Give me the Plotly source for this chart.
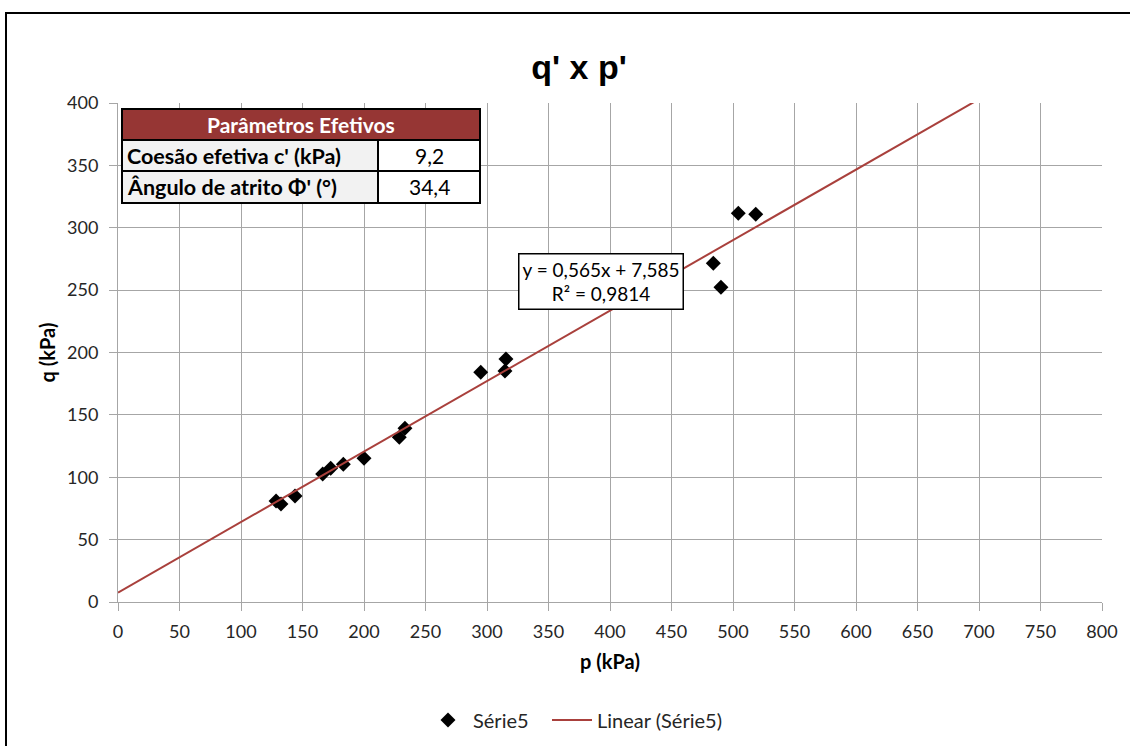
import plotly.graph_objects as go

# ---- data ----
p_values = [128.5, 132.5, 143.9, 166.4, 172.9, 183.2, 200.0, 228.7, 233.3,
            294.9, 315.4, 314.6, 484.0, 490.2, 504.3, 518.5]
q_values = [81.0, 78.6, 85.0, 102.6, 107.2, 110.4, 115.2, 132.0, 139.2,
            184.1, 194.8, 185.2, 271.5, 252.3, 311.6, 310.8]
trend_slope = 0.565
trend_intercept = 7.585
trend_r2 = "0,9814"
trend_x = [0, 800]
table_header = "Parâmetros Efetivos"
table_labels = ["Coesão efetiva c' (kPa)", "Ângulo de atrito Φ' (°)"]
table_values = ["9,2", "34,4"]

# ---- layout geometry (pixels) ----
W, H = 1130, 746
L, R, T, B = 118, 1102, 103, 602

def px(x):
    return (x - L) / (R - L)

def py(y):
    return (B - y) / (B - T)

FONT = "Lato, Carlito, Open Sans, sans-serif"

fig = go.Figure()
fig.add_trace(go.Scatter(
    x=p_values, y=q_values, mode="markers", name="Série5",
    marker=dict(symbol="diamond", size=11.5, color="black"), legend="legend",
))
trend_y = [trend_slope * x + trend_intercept for x in trend_x]
fig.add_trace(go.Scatter(
    x=trend_x, y=trend_y, mode="lines", name="Linear (Série5)",
    line=dict(color="#a9403c", width=2), legend="legend2",
))

grid = "#a6a6a6"
leg_common = dict(orientation="h", yanchor="middle", xanchor="left",
                  font=dict(size=20, color="#262626"), itemwidth=40,
                  bgcolor="rgba(0,0,0,0)")
fig.update_layout(
    width=W, height=H,
    margin=dict(l=L, r=W - R, t=T, b=H - B, autoexpand=False),
    paper_bgcolor="white", plot_bgcolor="white",
    font=dict(family=FONT, size=18, color="#262626"),
    showlegend=True,
    legend=dict(x=px(423), y=py(720), **leg_common),
    legend2=dict(x=px(547), y=py(720), **leg_common),
    title=dict(text="<b>q' x p'</b>", x=(579) / W, xanchor="center",
               y=1 - 67 / H, yanchor="middle",
               font=dict(family="Liberation Sans Narrow, Arial Narrow, Liberation Sans, Arial",
                         size=34, color="black")),
)
fig.update_xaxes(
    range=[0, 800], dtick=50, tick0=0, showgrid=True, gridcolor=grid, gridwidth=1,
    showline=True, linecolor=grid, linewidth=1, ticks="outside", ticklen=8,
    tickcolor=grid, zeroline=False, tickfont=dict(size=18), ticklabelstandoff=5,
    title=dict(text="<b>p (kPa)</b>", font=dict(size=20, color="black"), standoff=14),
)
fig.update_yaxes(
    range=[0, 400], dtick=50, tick0=0, showgrid=True, gridcolor=grid, gridwidth=1,
    showline=True, linecolor=grid, linewidth=1, ticks="outside", ticklen=8,
    tickcolor=grid, zeroline=False, tickfont=dict(size=18), ticklabelstandoff=7,
    title=dict(text="<b>q (kPa)</b>", font=dict(size=20, color="black"), standoff=6),
)

shapes = []
# outer chart border
shapes.append(dict(type="rect", xref="paper", yref="paper",
                   x0=px(6), x1=px(1200), y0=py(800), y1=py(13),
                   line=dict(color="black", width=2), fillcolor="rgba(0,0,0,0)",
                   layer="below"))
# table
tx0, tx1, tsplit = 122, 480, 378
rows = [109, 140, 171, 203]
shapes.append(dict(type="rect", xref="paper", yref="paper",
                   x0=px(tx0), x1=px(tx1), y0=py(rows[1]), y1=py(rows[0]),
                   fillcolor="#963634", line=dict(color="black", width=2), layer="above"))
for i in range(2):
    shapes.append(dict(type="rect", xref="paper", yref="paper",
                       x0=px(tx0), x1=px(tsplit), y0=py(rows[i + 2]), y1=py(rows[i + 1]),
                       fillcolor="#f2f2f2", line=dict(color="black", width=2), layer="above"))
    shapes.append(dict(type="rect", xref="paper", yref="paper",
                       x0=px(tsplit), x1=px(tx1), y0=py(rows[i + 2]), y1=py(rows[i + 1]),
                       fillcolor="white", line=dict(color="black", width=2), layer="above"))
fig.update_layout(shapes=shapes)

fig.add_annotation(xref="paper", yref="paper", x=px((tx0 + tx1) / 2),
                   y=py((rows[0] + rows[1]) / 2), text="<b>" + table_header + "</b>",
                   showarrow=False, font=dict(size=21, color="white"),
                   xanchor="center", yanchor="middle")
for i in range(2):
    yc = py((rows[i + 1] + rows[i + 2]) / 2)
    fig.add_annotation(xref="paper", yref="paper", x=px(tx0 + 3), y=yc,
                       text="<b>" + table_labels[i] + "</b>", showarrow=False,
                       font=dict(size=21.5, color="black"), xanchor="left", yanchor="middle")
    fig.add_annotation(xref="paper", yref="paper", x=px((tsplit + tx1) / 2), y=yc,
                       text=table_values[i], showarrow=False,
                       font=dict(size=21, color="black"), xanchor="center", yanchor="middle")

# equation box
eq_text = "y = {}x + {}<br>R² = {}".format(
    str(trend_slope).replace(".", ","), str(trend_intercept).replace(".", ","), trend_r2)
fig.add_annotation(xref="paper", yref="paper", x=px(600.5), y=py(281.5),
                   text=eq_text, showarrow=False, align="center",
                   font=dict(size=19, color="black"), bgcolor="white",
                   bordercolor="black", borderwidth=1.5, borderpad=3,
                   xanchor="center", yanchor="middle")

fig.write_html("out.html")
